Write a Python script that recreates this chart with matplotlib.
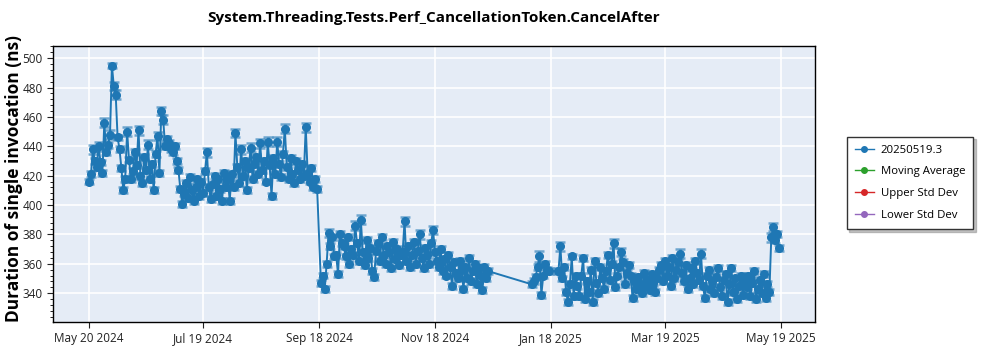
import numpy as np
import pandas as pd
import matplotlib
matplotlib.use("Agg")
import matplotlib.pyplot as plt
import matplotlib.dates as mdates
from matplotlib.lines import Line2D
from matplotlib.ticker import MultipleLocator

plt.rcParams['font.family'] = ['Open Sans', 'DejaVu Sans']

title = "System.Threading.Tests.Perf_CancellationToken.CancelAfter"
ylabel = "Duration of single invocation (ns)"
legend_labels = ["20250519.3", "Moving Average", "Upper Std Dev", "Lower Std Dev"]
legend_colors = ["#1f77b4", "#2ca02c", "#d62728", "#9467bd"]

# daily results (ns), one list per month, segments start at the given date
may24 = [416, 421, 438, 430, 426, 440, 429, 422, 456, 436, 441, 448]
jun24 = [495, 481, 475, 446, 438, 425, 410, 418, 450, 431, 418, 423, 436, 427, 451,
         420, 415, 433, 424, 441, 418, 428, 410, 435, 447, 422, 464, 458, 440, 445]
jul24 = [442, 438, 436, 440, 430, 424, 411, 401, 408, 415, 405, 419, 410, 403, 412, 418,
         406, 416, 408, 423, 436, 412, 404, 414, 420, 406, 418, 411, 403, 422, 412]
aug24 = [418, 403, 421, 412, 449, 426, 415, 438, 420, 430, 410, 425, 439, 418, 428, 433,
         421, 442, 424, 430, 416, 443, 427, 406, 432, 421, 443, 428, 419, 435, 452]
sep24a = [426, 418, 432, 421, 415, 430, 424, 418, 428, 420, 453, 422, 416, 425, 412, 418, 411]
sep24b = [347, 352, 343, 360, 381, 372, 378, 365, 366, 353, 380, 374]
oct24 = [372, 365, 378, 360, 370, 366, 386, 374, 362, 390, 368, 359, 376, 364, 371, 355,
         351, 369, 374, 362, 378, 366, 360, 372, 368, 357, 375, 363, 370, 359, 366]
nov24 = [368, 389, 362, 372, 358, 366, 375, 360, 369, 380, 364, 357, 371, 366, 360,
         374, 383, 368, 362, 358, 370, 355, 363, 352, 366, 358, 345, 361, 354, 350]
dec24 = [362, 356, 343, 358, 350, 364, 348, 355, 360, 346, 357, 352, 342, 358, 350, 355]
jan25a = [346, 348, 351, 358, 365, 339, 352, 360, 356, 355]
jan25b = [355, 372, 350, 358, 341, 334, 346, 365, 338, 352]
feb25 = [345, 338, 352, 364, 336, 348, 341, 356, 334, 362, 347, 340, 358, 350,
         343, 355, 366, 349, 360, 374, 344, 352, 358, 368, 361, 346, 354, 359]
mar25 = [352, 337, 348, 343, 351, 346, 340, 354, 345, 349, 342, 353, 347, 341, 350, 356,
         359, 348, 362, 352, 358, 345, 364, 350, 356, 361, 367, 354, 348, 359, 343]
apr25 = [350, 357, 346, 362, 354, 349, 367, 345, 337, 352, 356, 343, 348, 340, 351,
         357, 344, 338, 349, 353, 334, 346, 357, 341, 350, 336, 345, 352, 339, 347]
may25 = [344, 352, 338, 347, 355, 336, 343, 349, 340, 353, 337, 346, 341, 378, 385, 376, 380, 371]

# error bar half-widths (ns)
err_may24 = [2, 2, 3, 2, 2, 3, 2, 2, 3, 2, 2, 3]
err_jun24 = [2, 3, 3, 2, 2, 2, 2, 2, 3, 2, 2, 2, 2, 2, 3, 2, 2, 2, 2, 3, 2, 2, 2, 2, 3, 2, 3, 3, 2, 2]
err_jul24 = [2, 2, 2, 2, 2, 2, 2, 2, 2, 2, 2, 2, 2, 2, 2, 2, 2, 2, 2, 2, 3, 2, 2, 2, 2, 2, 2, 2, 2, 2, 2]
err_aug24 = [2, 2, 2, 2, 3, 2, 2, 3, 2, 2, 2, 2, 3, 2, 2, 2, 2, 3, 2, 2, 2, 3, 2, 2, 2, 2, 3, 2, 2, 2, 3]
err_sep24a = [2, 2, 2, 2, 2, 2, 2, 2, 2, 2, 3, 2, 2, 2, 2, 2, 2]
err_sep24b = [2, 2, 2, 2, 3, 2, 2, 2, 2, 2, 2, 2]
err_oct24 = [2, 2, 2, 2, 2, 2, 3, 2, 2, 3, 2, 2, 2, 2, 2, 2, 2, 2, 2, 2, 2, 2, 2, 2, 2, 2, 2, 2, 2, 2, 2]
err_nov24 = [2, 3, 2, 2, 2, 2, 2, 2, 2, 3, 2, 2, 2, 2, 2, 2, 3, 2, 2, 2, 2, 2, 2, 2, 2, 2, 2, 2, 2, 2]
err_dec24 = [2, 2, 2, 2, 2, 2, 2, 2, 2, 2, 2, 2, 2, 2, 2, 2]
err_jan25a = [2, 2, 2, 2, 4, 2, 2, 2, 2, 2]
err_jan25b = [2, 3, 2, 2, 2, 2, 2, 2, 2, 2]
err_feb25 = [2, 2, 2, 2, 2, 2, 2, 2, 2, 2, 2, 2, 2, 2, 2, 2, 2, 2, 2, 3, 2, 2, 2, 3, 2, 2, 2, 2]
err_mar25 = [2, 2, 2, 2, 2, 2, 2, 2, 2, 2, 2, 2, 2, 2, 2, 2, 2, 2, 2, 2, 2, 2, 2, 2, 2, 2, 3, 2, 2, 2, 2]
err_apr25 = [2, 2, 2, 2, 2, 2, 3, 2, 2, 2, 2, 2, 2, 2, 2, 2, 2, 2, 2, 2, 2, 2, 2, 2, 2, 2, 2, 2, 2, 2]
err_may25 = [2, 2, 2, 2, 2, 2, 2, 2, 2, 2, 2, 2, 2, 3, 3, 2, 2, 2]

segments = [
    ("2024-05-20", may24 + jun24 + jul24 + aug24 + sep24a,
     err_may24 + err_jun24 + err_jul24 + err_aug24 + err_sep24a),
    ("2024-09-19", sep24b + oct24 + nov24 + dec24,
     err_sep24b + err_oct24 + err_nov24 + err_dec24),
    ("2025-01-08", jan25a, err_jan25a),
    ("2025-01-22", jan25b + feb25 + mar25 + apr25 + may25,
     err_jan25b + err_feb25 + err_mar25 + err_apr25 + err_may25),
]

dates = []
values = []
errors = []
for start, vals, errs in segments:
    dates.extend(pd.date_range(start, periods=len(vals), freq="D"))
    values.extend(vals)
    errors.extend(errs)

tick_dates = pd.to_datetime(["2024-05-20", "2024-07-19", "2024-09-18", "2024-11-18",
                             "2025-01-18", "2025-03-19", "2025-05-19"])

fig = plt.figure(figsize=(10, 3.5), dpi=100)
ax = fig.add_axes([0.053, 0.081, 0.762, 0.788])
ax.set_facecolor("#E5ECF6")

blue = "#1f77b4"
eb = ax.errorbar(dates, values, yerr=errors, color=blue, ecolor=blue, elinewidth=2,
                 capsize=3.5, capthick=1.8, lw=1.4, marker="o", ms=5.5, zorder=3)
for coll in eb[2]:
    coll.set_alpha(0.6)
for cap in eb[1]:
    cap.set_alpha(0.6)

ax.set_xlim(pd.Timestamp("2024-05-01"), pd.Timestamp("2025-06-06"))
ax.set_ylim(320.6, 508.4)
ax.set_xticks(tick_dates)
ax.xaxis.set_major_formatter(mdates.DateFormatter("%b %d %Y"))
ax.yaxis.set_major_locator(MultipleLocator(20))
ax.yaxis.set_minor_locator(MultipleLocator(4))
ax.grid(True, which="major", color="white", lw=1.2)
ax.set_axisbelow(True)
ax.tick_params(axis="both", labelsize=8.5, colors="#222222", length=4)
ax.tick_params(axis="y", which="minor", length=2)
for s in ax.spines.values():
    s.set_color("black")
    s.set_linewidth(1)

fig.text(0.434, 0.948, title, ha="center", va="center", fontsize=11, fontweight="bold")
fig.text(0.014, 0.49, ylabel, rotation=90, ha="center", va="center",
         fontsize=12.5, fontweight="bold")

handles = [Line2D([0], [0], color=c, marker="o", ms=4, lw=1) for c in legend_colors]
leg = fig.legend(handles, legend_labels, loc="upper left", bbox_to_anchor=(0.841, 0.626),
                 fontsize=8.2, frameon=True, fancybox=False, shadow={"color": "#888888"},
                 handlelength=1.7, handletextpad=0.6, borderpad=0.7, labelspacing=0.95)
leg.get_frame().set_edgecolor("#333333")
leg.get_frame().set_linewidth(1)

fig.savefig("out.png", dpi=100)
